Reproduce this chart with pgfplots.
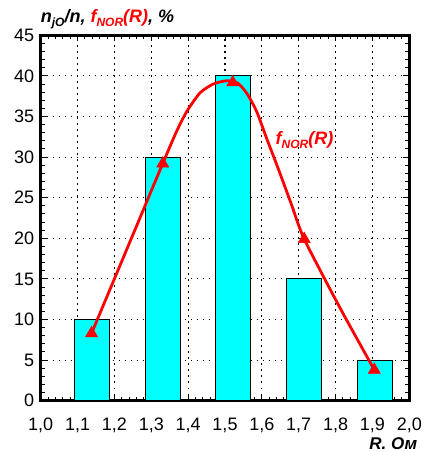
\documentclass[border=0pt]{standalone}
\usepackage{fontspec}
\setmainfont{Liberation Sans}
\usepackage{pgfplots}
\pgfplotsset{compat=1.18}
\definecolor{barcyan}{RGB}{0,255,255}
\newcommand{\sub}[1]{\raisebox{-4pt}{\fontsize{12}{12}\selectfont #1}}
\begin{document}
\begin{tikzpicture}
\useasboundingbox (0,0) rectangle (423pt,452pt);
\begin{axis}[
  at={(40.7pt,51.3pt)}, anchor=south west,
  scale only axis, width=368.6pt, height=365.4pt,
  xmin=1.0, xmax=2.0, ymin=0, ymax=45,
  xtick={1.0,1.1,1.2,1.3,1.4,1.5,1.6,1.7,1.8,1.9,2.0},
  ytick={0,5,10,15,20,25,30,35,40,45},
  minor x tick num=4, minor y tick num=4,
  tick align=inside,
  major tick length=6pt, minor tick length=4pt,
  every tick/.style={black, line width=1pt},
  axis line style={line width=2.5pt},
  grid=major,
  major grid style={black, line width=1.1pt, dash pattern=on 1.2pt off 4.8pt},
  /pgf/number format/assume math mode=true,
  xticklabel style={/pgf/number format/use comma, /pgf/number format/fixed, /pgf/number format/fixed zerofill, /pgf/number format/precision=1, yshift=-14pt},
  ticklabel style={font=\fontsize{18}{18}\selectfont},
  yticklabel style={xshift=-3pt},
  clip=false,
]
\addplot[ybar, bar width=0.095, fill=barcyan, draw=black, line width=0.9pt]
  coordinates {(1.138,10) (1.331,30) (1.522,40) (1.715,15) (1.906,5)};
\addplot[red, line width=2.8pt, smooth, tension=0.4, mark=none]
  coordinates {(1.138,8.3) (1.235,18.8) (1.331,29.2) (1.368,33.1) (1.396,35.6) (1.432,37.9) (1.468,39.0) (1.505,39.4) (1.535,39.1) (1.56,37.8) (1.586,35.6) (1.613,32.3) (1.645,28.5) (1.68,24.2) (1.715,19.9) (1.81,11.6) (1.905,3.8)};
\addplot[only marks, red, mark=triangle*, mark size=7pt]
  coordinates {(1.138,8.3) (1.331,29.2) (1.521,39.2) (1.715,19.9) (1.905,3.8)};
\node[red, font=\fontsize{18}{18}\selectfont\bfseries\itshape, anchor=base west] at (axis cs:1.628,31.5) {f\sub{NOR}(R)};
\node[anchor=base west, font=\fontsize{18}{18}\selectfont\bfseries\itshape, inner sep=0pt] at ([yshift=13pt]axis description cs:0,1) {n\sub{jO}/n, \textcolor{red}{f\sub{NOR}(R)}, \%};
\node[anchor=base east, font=\fontsize{17}{17}\selectfont\bfseries\itshape, inner sep=0pt] at ([xshift=8pt,yshift=-48.3pt]axis description cs:1,0) {R. Ом};
\end{axis}
\end{tikzpicture}
\end{document}
